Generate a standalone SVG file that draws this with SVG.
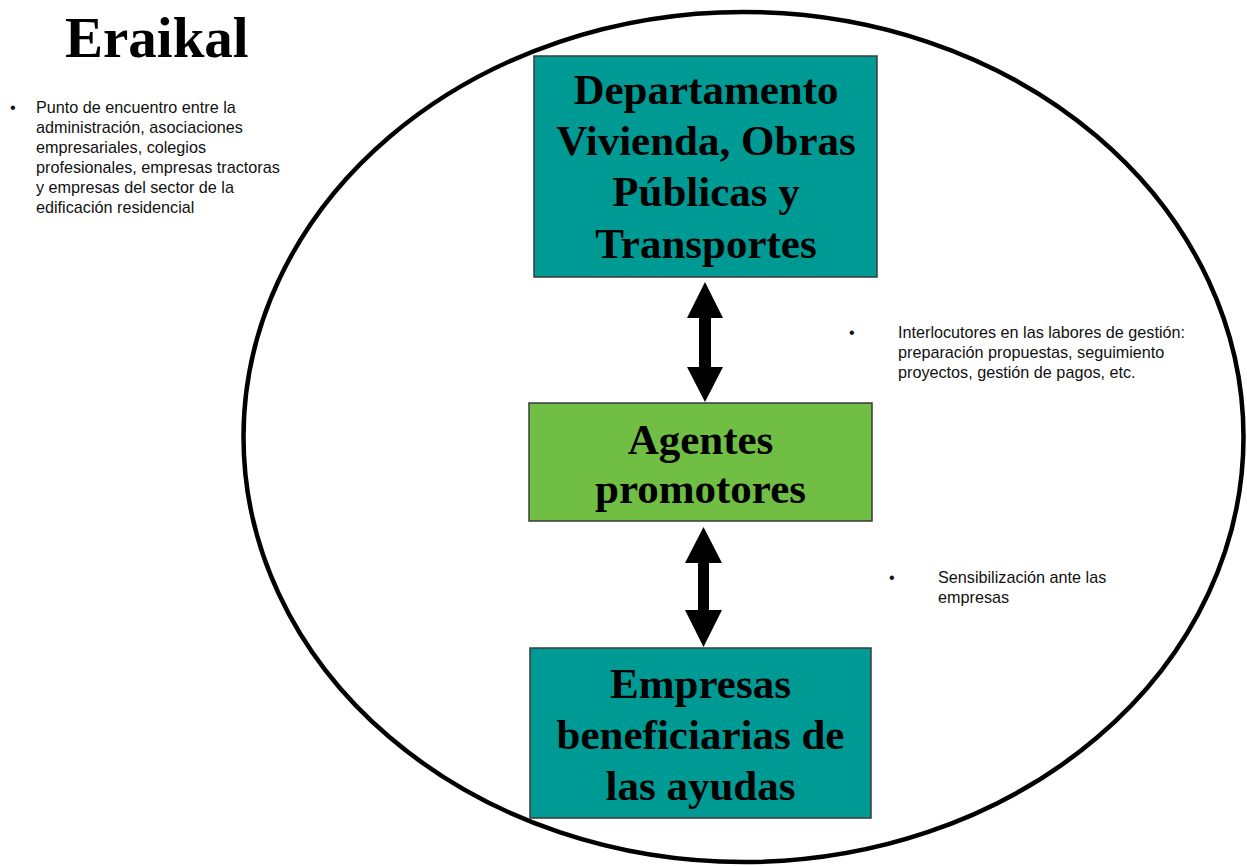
<svg xmlns="http://www.w3.org/2000/svg" width="1247" height="866" viewBox="0 0 1247 866">
<style>
.box{stroke:#3a3a3a;stroke-width:1.5}
.teal{fill:#009A94}
.green{fill:#70BF44}
.big{font-family:"Liberation Serif","Times New Roman",serif;font-weight:bold;font-size:43px;fill:#000;text-anchor:middle}
.small{font-family:"Liberation Sans",Arial,sans-serif;font-size:16.2px;fill:#111}
.arrow{fill:#000}
</style>
<rect width="1247" height="866" fill="#fff"/>
<ellipse id="boundary" cx="743.5" cy="437" rx="500" ry="425" fill="none" stroke="#000" stroke-width="4.5"/>
<g id="title">
<text x="65" y="57" font-family="'Liberation Serif','Times New Roman',serif" font-weight="bold" font-size="57" fill="#000">Eraikal</text>
</g>
<g id="note-left" class="small">
<text x="10" y="113">•</text>
<text x="36" y="113">Punto de encuentro entre la</text>
<text x="36" y="133">administración, asociaciones</text>
<text x="36" y="153">empresariales, colegios</text>
<text x="36" y="173">profesionales, empresas tractoras</text>
<text x="36" y="193">y empresas del sector de la</text>
<text x="36" y="213">edificación residencial</text>
</g>
<g id="node-departamento">
<rect class="box teal" x="534" y="56" width="343" height="221"/>
<text class="big" x="706" y="104">Departamento</text>
<text class="big" x="706" y="155">Vivienda, Obras</text>
<text class="big" x="706" y="206">Públicas y</text>
<text class="big" x="706" y="258">Transportes</text>
</g>
<g id="node-agentes">
<rect class="box green" x="529" y="403" width="343" height="118"/>
<text class="big" x="700.5" y="454">Agentes</text>
<text class="big" x="700.5" y="503">promotores</text>
</g>
<g id="node-empresas">
<rect class="box teal" x="530" y="648" width="341" height="170"/>
<text class="big" x="700.5" y="698">Empresas</text>
<text class="big" x="700.5" y="749">beneficiarias de</text>
<text class="big" x="700.5" y="800">las ayudas</text>
</g>
<g id="note-right-1" class="small">
<text x="849" y="338">•</text>
<text x="898" y="338">Interlocutores en las labores de gestión:</text>
<text x="898" y="358">preparación propuestas, seguimiento</text>
<text x="898" y="378">proyectos, gestión de pagos, etc.</text>
</g>
<g id="note-right-2" class="small">
<text x="889" y="583">•</text>
<text x="938" y="583">Sensibilización ante las</text>
<text x="938" y="603">empresas</text>
</g>
<g id="connectors">
<polygon class="arrow" points="705,282 723,318 711,318 711,367 723,367 705,402 687,367 699,367 699,318 687,318"/>
<polygon class="arrow" points="703.5,527 722,563 709,563 709,610 722,610 703.5,647 685,610 698,610 698,563 685,563"/>
</g>
</svg>
